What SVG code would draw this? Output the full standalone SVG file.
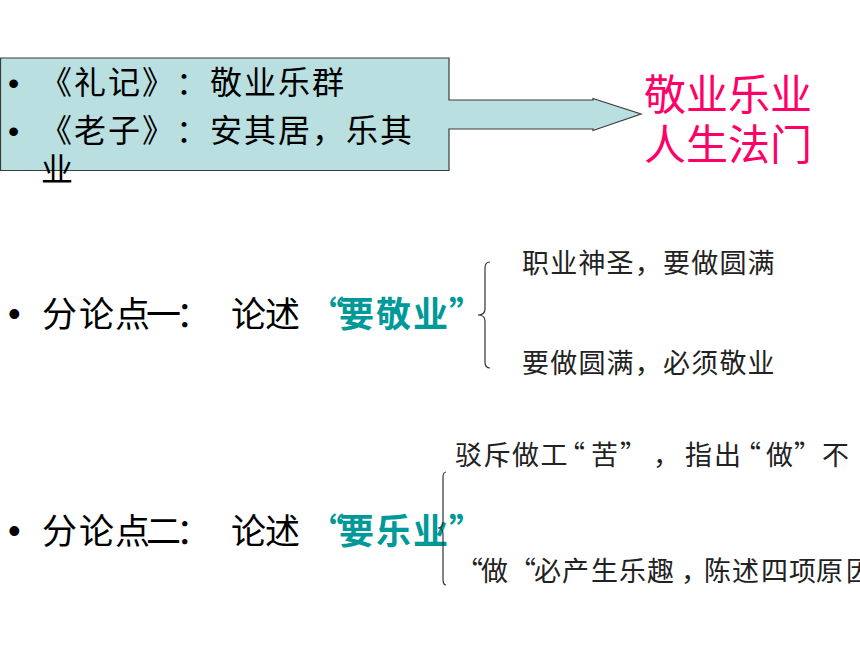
<svg xmlns="http://www.w3.org/2000/svg" width="860" height="645" viewBox="0 0 860 645">
  <style>
    text { text-spacing-trim: space-all; }
    .cjk { font-family: "Noto Sans CJK SC", "Liberation Sans", sans-serif; }
    .main { font-size: 35px; fill: #000000; }
    .box { font-size: 32px; fill: #000000; }
    .sub { font-size: 27px; fill: #222222; }
    .title { font-size: 42px; fill: #ff0066; }
    .hl { fill: #009999; font-weight: bold; }
    .bullet { font-family: "Liberation Sans", Arial, sans-serif; fill: #000000; }
    .brace { fill: none; stroke: #333333; stroke-width: 1.2; }
  </style>
  <rect x="0" y="0" width="860" height="645" fill="#ffffff"/>

  <g id="callout">
    <polygon points="0.5,58 449,58 449,100 593,100 593,98.5 641,114 593,130.5 593,129 449,129 449,170.5 0.5,170.5" fill="#b9dfe0" stroke="#3a3a3a" stroke-width="1.2"/>
    <text class="bullet" x="8" y="94" font-size="32">•</text>
    <text class="bullet" x="8" y="142" font-size="32">•</text>
    <text class="cjk box" x="40 74 108 142 176 210 244 278 312" y="94">《礼记》：敬业乐群</text>
    <text class="cjk box" x="40 74 108 142 176 210 244 278 312 346 380" y="142">《老子》：安其居，乐其</text>
    <text class="cjk box" x="41" y="181">业</text>
  </g>

  <g id="title">
    <text class="cjk title" x="644" y="110">敬业乐业</text>
    <text class="cjk title" x="644" y="160">人生法门</text>
  </g>

  <g id="point1">
    <text class="bullet" x="8" y="326" font-size="36">•</text>
    <text class="cjk main" x="42 79 115 146 176 231 265" y="327">分论点一：论述<tspan class="hl" x="309 339 376 413 449">“要敬业”</tspan></text>
  </g>
  <g id="point1-items">
    <text class="cjk sub" x="522 550.2 578.4 606.6 634.8 663 691.2 719.4 747.6" y="273">职业神圣，要做圆满</text>
    <text class="cjk sub" x="522 550.2 578.4 606.6 634.8 663 691.2 719.4 747.6" y="373">要做圆满，必须敬业</text>
  </g>

  <g id="point2">
    <text class="bullet" x="8" y="543" font-size="36">•</text>
    <text class="cjk main" x="42 79 115 146 176 231 265" y="544">分论点二：论述<tspan class="hl" x="309 339 376 413 449">“要乐业”</tspan></text>
  </g>
  <g id="point2-items">
    <text class="cjk sub" x="455 483.5 512 540.5 558 591 620 653 685 714 734 766 794 822" y="465">驳斥做工“苦”，指出“做”不</text>
    <text class="cjk sub" x="456 481 509 534 562 591 619 647 681 704 732 761 789 816 846" y="581">“做“必产生乐趣，陈述四项原因</text>
  </g>

  <g id="connectors">
    <path class="brace" d="M490,262 Q485,262 485,268 L485,309 Q485,315 478,315 Q485,315 485,321 L485,362 Q485,368 490,368"/>
    <path class="brace" d="M446,472 Q443,472 443,478 L443,522 Q443,528 438,528 Q443,528 443,534 L443,579 Q443,585 446,585"/>
  </g>
</svg>
